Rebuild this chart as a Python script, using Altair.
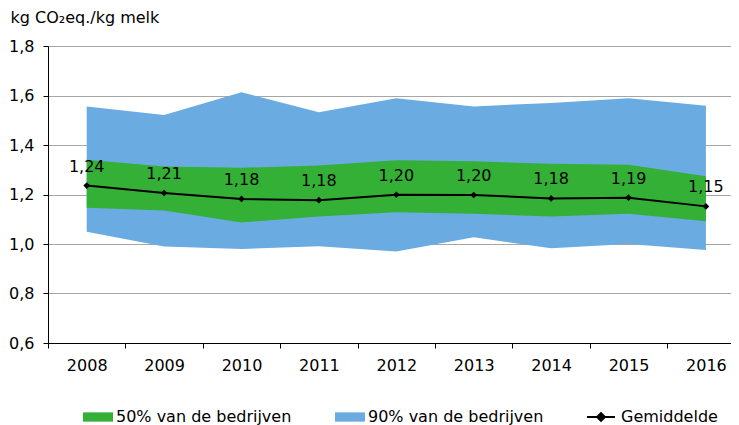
import altair as alt
import pandas as pd

years = [2008, 2009, 2010, 2011, 2012, 2013, 2014, 2015, 2016]
p90_low = [1.050, 0.990, 0.980, 0.991, 0.970, 1.027, 0.983, 1.000, 0.976]
p90_high = [1.556, 1.521, 1.613, 1.532, 1.589, 1.556, 1.570, 1.589, 1.559]
p50_low = [1.146, 1.135, 1.087, 1.111, 1.128, 1.122, 1.111, 1.122, 1.092]
p50_high = [1.340, 1.313, 1.308, 1.317, 1.338, 1.334, 1.324, 1.320, 1.274]
mean = [1.236, 1.206, 1.182, 1.177, 1.199, 1.198, 1.184, 1.187, 1.152]
band_names = ["50% van de bedrijven", "90% van de bedrijven"]
mean_name = "Gemiddelde"
y_title = "kg CO\u2082eq./kg melk"
y_ticks = [0.6, 0.8, 1.0, 1.2, 1.4, 1.6, 1.8]

GREEN = "#33B035"
BLUE = "#6AACE2"
FONT = "DejaVu Sans"
FS = 16

df90 = pd.DataFrame({"year": years, "low": p90_low, "high": p90_high, "band": band_names[1]})
df50 = pd.DataFrame({"year": years, "low": p50_low, "high": p50_high, "band": band_names[0]})
dfm = pd.DataFrame({
    "year": years,
    "mean": mean,
    "label": [f"{v:.2f}".replace(".", ",") for v in mean],
    "serie": mean_name,
})

x_vals = []
for y in years:
    x_vals += [y - 0.5, y]

x_scale = alt.Scale(domain=[2007.5, 2016.324], nice=False, zero=False)
y_scale = alt.Scale(domain=[0.6, 1.8], nice=False, zero=False)

x_axis = alt.Axis(
    values=x_vals,
    labelExpr="datum.value % 1 === 0 ? format(datum.value, 'd') : ''",
    tickOpacity={"condition": {"test": "datum.value % 1 === 0", "value": 0}, "value": 1},
    grid=False,
    domainColor="black",
    tickColor="black",
    tickSize=5,
    labelFontSize=FS,
    labelPadding=9,
    labelColor="black",
    labelOverlap=False,
    labelFlush=False,
    title=None,
)
y_axis = alt.Axis(
    values=y_ticks,
    labelExpr="replace(format(datum.value, '.1f'), '.', ',')",
    title=y_title,
    titleAngle=0,
    titleAlign="left",
    titleBaseline="alphabetic",
    titleX=-38,
    titleY=-24,
    titleFontSize=FS,
    titleFontWeight="normal",
    titleColor="black",
    labelFontSize=FS,
    labelColor="black",
    labelPadding=9,
    tickSize=5,
    tickColor="black",
    domainColor="black",
    gridColor="#A6A6A6",
)

fill_scale = alt.Scale(domain=band_names, range=[GREEN, BLUE])
fill_legend = alt.Legend(
    orient="none", legendX=35, legendY=356, direction="horizontal", title=None,
    symbolType="M-1,-0.31H1V0.31H-1Z", symbolSize=900, symbolStrokeWidth=0,
    symbolOpacity=1, labelFontSize=FS, labelColor="black", labelOffset=3,
    labelLimit=400, columnPadding=43, padding=0,
)

area90 = alt.Chart(df90).mark_area(opacity=1).encode(
    x=alt.X("year:Q", scale=x_scale, axis=x_axis),
    y=alt.Y("low:Q", scale=y_scale, axis=y_axis),
    y2="high:Q",
    fill=alt.Fill("band:N", scale=fill_scale, legend=fill_legend),
)
area50 = alt.Chart(df50).mark_area(opacity=1).encode(
    x=alt.X("year:Q", scale=x_scale, axis=x_axis),
    y=alt.Y("low:Q", scale=y_scale, axis=y_axis),
    y2="high:Q",
    fill=alt.Fill("band:N", scale=fill_scale, legend=fill_legend),
)
line = alt.Chart(dfm).mark_line(strokeWidth=2).encode(
    x=alt.X("year:Q", scale=x_scale, axis=x_axis),
    y=alt.Y("mean:Q", scale=y_scale, axis=y_axis),
    stroke=alt.Stroke(
        "serie:N",
        scale=alt.Scale(domain=[mean_name], range=["black"]),
        legend=alt.Legend(
            orient="none", legendX=538, legendY=356, title=None,
            symbolType="M-1,0H1M-0.28,0L0,-0.28L0.28,0L0,0.28Z", symbolSize=784,
            symbolStrokeWidth=2, symbolFillColor="black", labelFontSize=FS,
            labelColor="black", labelOffset=5, labelLimit=400, padding=0,
        ),
    ),
)
points = alt.Chart(dfm).mark_point(shape="diamond", filled=True, color="black", size=45, opacity=1).encode(
    x=alt.X("year:Q", scale=x_scale, axis=x_axis),
    y=alt.Y("mean:Q", scale=y_scale, axis=y_axis),
)
labels = alt.Chart(dfm).mark_text(dy=-14, baseline="alphabetic", fontSize=FS, color="black", font=FONT).encode(
    x=alt.X("year:Q", scale=x_scale, axis=x_axis),
    y=alt.Y("mean:Q", scale=y_scale, axis=y_axis),
    text="label:N",
)

chart = alt.layer(area90, area50, line, points, labels).properties(
    width=683,
    height=297,
    autosize="none",
    padding={"left": 40, "top": 38, "right": 0, "bottom": 82},
).configure(font=FONT).configure_view(stroke=None)

chart.save("out.html", embed_options={"renderer": "svg", "actions": False})
